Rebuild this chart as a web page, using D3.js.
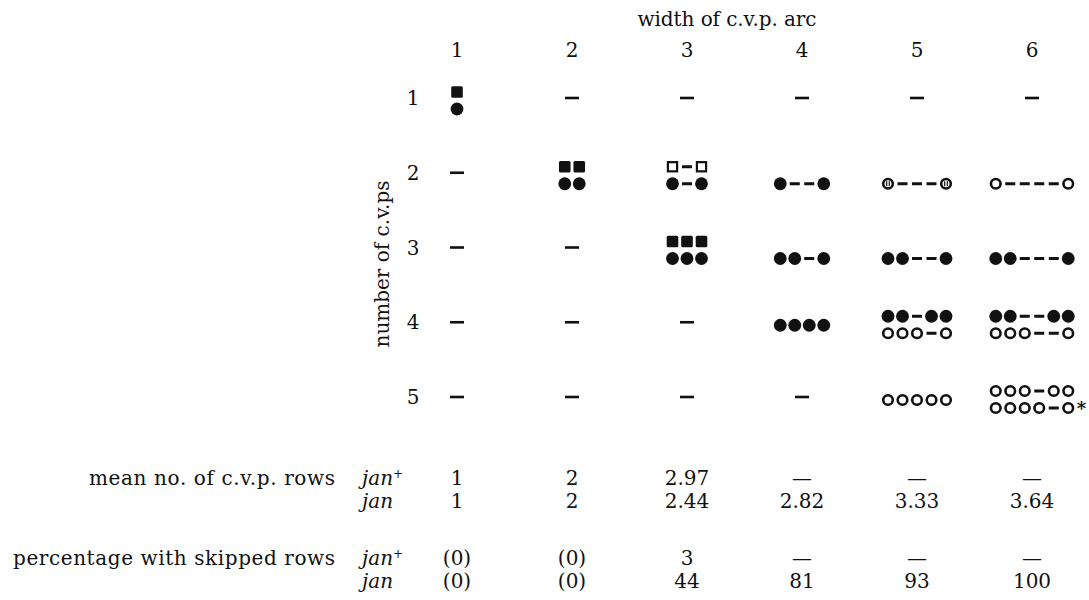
<html>
  <head>
    <script src="https://d3js.org/d3.v7.min.js"></script>
    <style>
      body { margin: 0; background: #fff; }
      text { font-family: "DejaVu Serif", serif; fill: #111; }
    </style>
  </head>
  <body>
    <div id="chart"></div>
    <script>
      // column = width of c.v.p. arc, row = number of c.v.ps
      var colLabels = ["1", "2", "3", "4", "5", "6"];
      var rowLabels = ["1", "2", "3", "4", "5"];

      // S filled square, s open square, F filled circle, O open circle,
      // H barred circle, - gap, * asterisk; null = empty cell (dash), "" = empty slot
      var patterns = [
        [["S", "F"], null, null, null, null, null],
        [null, ["SS", "FF"], ["s-s", "F-F"], ["", "F--F"], ["", "H---H"], ["", "O----O"]],
        [null, null, ["SSS", "FFF"], ["", "FF-F"], ["", "FF--F"], ["", "FF---F"]],
        [null, null, null, ["FFFF"], ["FF-FF", "OOO-O"], ["FF--FF", "OOO--O"]],
        [null, null, null, null, ["OOOOO"], ["OOO-OO", "OOOO-O*"]]
      ];

      var meanJanPlus = [1, 2, 2.97, null, null, null];
      var meanJan     = [1, 2, 2.44, 2.82, 3.33, 3.64];
      var skipJanPlus = [0, 0, 3, null, null, null];
      var skipJan     = [0, 0, 44, 81, 93, 100];

      var width = 1089, height = 600;

      var svg = d3.select("#chart")
        .append("svg")
          .attr("width", width)
          .attr("height", height);

      var x = d3.scalePoint()
        .domain(colLabels)
        .range([457, 1032]);

      var y = d3.scalePoint()
        .domain(rowLabels)
        .range([98, 397]);

      var unit = 14.5;

      // titles
      svg.append("text")
        .attr("x", 727).attr("y", 26)
        .attr("text-anchor", "middle")
        .style("font-size", "20px")
        .attr("textLength", 179)
        .text("width of c.v.p. arc");

      svg.append("text")
        .attr("transform", "translate(389,264) rotate(-90)")
        .attr("text-anchor", "middle")
        .style("font-size", "20px")
        .text("number of c.v.ps");

      // column and row labels
      svg.selectAll(".colLabel")
        .data(colLabels)
        .enter().append("text")
          .attr("class", "colLabel")
          .attr("x", function(d) { return x(d); })
          .attr("y", 57)
          .attr("text-anchor", "middle")
          .style("font-size", "20px")
          .text(function(d) { return d; });

      svg.selectAll(".rowLabel")
        .data(rowLabels)
        .enter().append("text")
          .attr("class", "rowLabel")
          .attr("x", 413)
          .attr("y", function(d) { return y(d) + 7; })
          .attr("text-anchor", "middle")
          .style("font-size", "20px")
          .text(function(d) { return d; });

      function drawGlyph(g, ch, cx, cy) {
        if (ch === "S") {
          g.append("rect").attr("x", cx - 5.8).attr("y", cy - 5.8)
            .attr("width", 11.6).attr("height", 11.6).attr("rx", 1.5).attr("fill", "#111");
        } else if (ch === "s") {
          g.append("rect").attr("x", cx - 4.6).attr("y", cy - 4.6)
            .attr("width", 9.2).attr("height", 9.2)
            .attr("fill", "none").attr("stroke", "#111").attr("stroke-width", 2.2);
        } else if (ch === "F") {
          g.append("circle").attr("cx", cx).attr("cy", cy).attr("r", 6.4).attr("fill", "#111");
        } else if (ch === "O" || ch === "H") {
          g.append("circle").attr("cx", cx).attr("cy", cy).attr("r", 4.8)
            .attr("fill", "none").attr("stroke", "#111").attr("stroke-width", 2.6);
          if (ch === "H") {
            [-1.3, 1.3].forEach(function(dx) {
              g.append("line").attr("x1", cx + dx).attr("x2", cx + dx)
                .attr("y1", cy - 2.6).attr("y2", cy + 2.6)
                .attr("stroke", "#111").attr("stroke-width", 1.2);
            });
          }
        } else if (ch === "-") {
          g.append("rect").attr("x", cx - 5).attr("y", cy - 1.5)
            .attr("width", 10).attr("height", 3).attr("fill", "#111");
        } else if (ch === "*") {
          g.append("text").attr("x", cx - 6).attr("y", cy + 7)
            .style("font-size", "18px").style("font-weight", "bold")
            .text("*");
        }
      }

      var grid = svg.append("g");

      patterns.forEach(function(row, ri) {
        var cy = y(rowLabels[ri]);
        row.forEach(function(cell, ci) {
          var cx = x(colLabels[ci]);
          if (cell === null) {
            grid.append("rect")
              .attr("x", cx - 7).attr("y", cy - 1.3)
              .attr("width", 14).attr("height", 2.6)
              .attr("fill", "#111");
            return;
          }
          cell.forEach(function(line, li) {
            var ly = cell.length === 1 ? cy + 3 : cy + (li === 0 ? -6 : 11);
            var chars = line.replace("*", "").split("");
            var x0 = cx - (chars.length - 1) * unit / 2;
            line.split("").forEach(function(ch, k) {
              drawGlyph(grid, ch, x0 + k * unit, ly);
            });
          });
        });
      });

      // bottom table
      function fmtMean(v) { return v === null ? "\u2014" : String(v); }
      function fmtSkip(v) { return v === null ? "\u2014" : (v === 0 ? "(0)" : String(v)); }

      var tableRows = [
        { label: "mean no. of c.v.p. rows", len: 246, plus: true, values: meanJanPlus, fmt: fmtMean, y: 485 },
        { label: "", plus: false, values: meanJan, fmt: fmtMean, y: 508 },
        { label: "percentage with skipped rows", len: 322, plus: true, values: skipJanPlus, fmt: fmtSkip, y: 565 },
        { label: "", plus: false, values: skipJan, fmt: fmtSkip, y: 588 }
      ];

      tableRows.forEach(function(r) {
        if (r.label) {
          svg.append("text")
            .attr("x", 335).attr("y", r.y)
            .attr("text-anchor", "end")
            .attr("textLength", r.len)
            .style("font-size", "20px")
            .text(r.label);
        }
        var t = svg.append("text")
          .attr("x", 362).attr("y", r.y)
          .style("font-size", "20px")
          .style("font-style", "italic")
          .text("jan");
        if (r.plus) {
          t.append("tspan").attr("dy", -7).style("font-size", "12px").text("+");
        }
        svg.selectAll(null)
          .data(r.values)
          .enter().append("text")
            .attr("x", function(d, i) { return x(colLabels[i]); })
            .attr("y", r.y)
            .attr("text-anchor", "middle")
            .style("font-size", "20px")
            .text(function(d) { return r.fmt(d); });
      });
    </script>
  </body>
</html>
